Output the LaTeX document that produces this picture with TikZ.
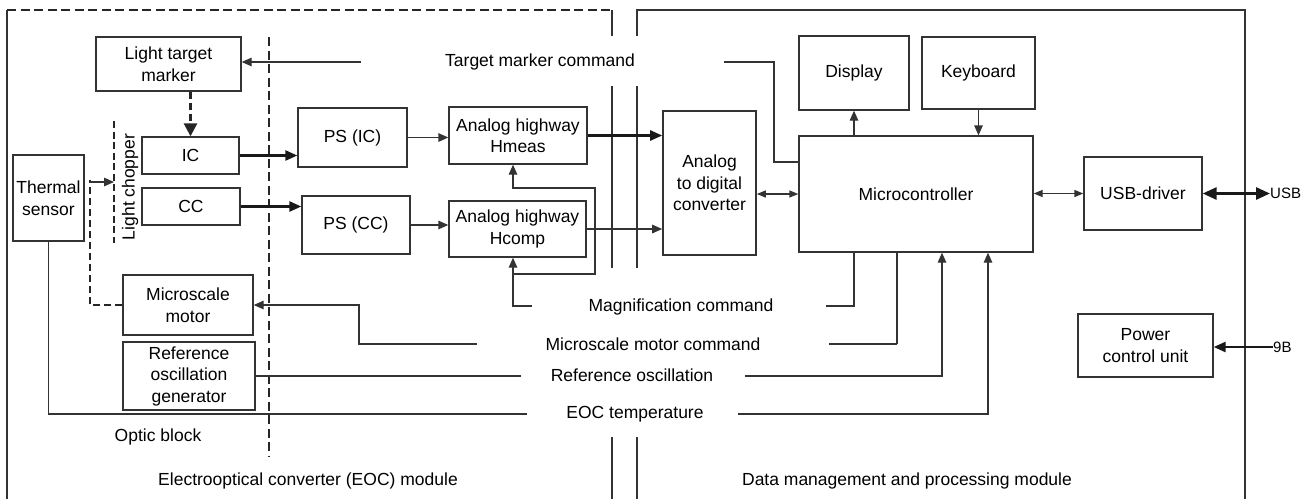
\documentclass[tikz,border=0pt]{standalone}
\usepackage{xcolor}
\usepackage{fontspec}
\setmainfont{Liberation Sans}
\usepackage{tikz}
\usetikzlibrary{
  positioning,
  arrows.meta,
  calc
}
\newcommand{\labfont}{\fontsize{17.5}{21.5}\selectfont}
\newcommand{\pinfont}{\fontsize{15}{17}\selectfont}
\tikzset{
  >=Triangle,
  wire/.style={draw=black!80,line width=1.3pt},
  flowarrow/.style={wire,-{Triangle[length=10pt,width=8.5pt]}},
  biarrow/.style={wire,{Triangle[length=9pt,width=7pt]}-{Triangle[length=9pt,width=7pt]}},
  fatarrow/.style={draw=black!90,line width=2.4pt,-{Triangle[length=12pt,width=10pt]}},
  fatbiarrow/.style={draw=black!90,line width=2.8pt,{Triangle[length=14pt,width=12pt]}-{Triangle[length=14pt,width=12pt]}},
  optic/.style={draw=black!85,line width=2.6pt,dash pattern=on 9pt off 4.5pt},
  block/.style={rectangle,draw=black!80,line width=1.3pt,align=center,inner sep=0pt},
  boxsize/.style 2 args={minimum width=#1,minimum height=#2},
  cmd/.style={inner sep=0pt,align=center},
  pin/.style={font=\pinfont,inner sep=0pt,anchor=west}
}

\begin{document}
\begin{tikzpicture}[x=1pt,y=-1pt,font=\labfont]
    \useasboundingbox (0,0) rectangle (1315,499);

    % optic block and EOC module
    \node[block,boxsize={145pt}{54pt}] (marker) at (168.5,64) {Light target\\marker};
    \node[block,boxsize={97pt}{37pt}] (ic) at (190.5,155.5) {IC};
    \node[block,boxsize={98pt}{37pt}] (cc) at (191,206.5) {CC};
    \node[block,boxsize={71pt}{86pt}] (thermal) at (48.5,198) {Thermal\\sensor};
    \node[block,boxsize={130pt}{60pt}] (motor) at (188,305) {Microscale\\motor};
    \node[block,boxsize={132pt}{68pt}] (refgen) at (189,376) {Reference\\oscillation\\generator};
    \node[block,boxsize={109pt}{59pt}] (psic) at (352.5,137.5) {PS (IC)};
    \node[block,boxsize={108pt}{58pt}] (pscc) at (356,225) {PS (CC)};
    \node[block,boxsize={138pt}{57pt}] (hmeas) at (518,135.5) {Analog highway\\Hmeas};
    \node[block,boxsize={137pt}{56pt}] (hcomp) at (517.5,229) {Analog highway\\Hcomp};

    % data management module
    \node[block,boxsize={93pt}{144pt},line width=1.6pt] (adc) at (709.5,183) {Analog\\to digital\\converter};
    \node[block,boxsize={110pt}{74pt}] (display) at (854,73) {Display};
    \node[block,boxsize={113pt}{72pt}] (keyboard) at (978.5,73) {Keyboard};
    \node[block,boxsize={234pt}{116pt}] (micro) at (916,194) {Microcontroller};
    \node[block,boxsize={118pt}{73pt}] (usbdrv) at (1143,193.5) {USB-driver};
    \node[block,boxsize={135pt}{63pt}] (power) at (1145.5,345.5) {Power\\control unit};

    % labels
    \node[cmd,rotate=90] (chopper) at (130,187) {Light chopper};
    \node[cmd] (tmcmd) at (540,62) {Target marker command};
    \node[cmd] (magcmd) at (681,307) {Magnification command};
    \node[cmd] (motcmd) at (653,344) {Microscale motor command};
    \node[cmd] (refosc) at (632,375) {Reference oscillation};
    \node[cmd] (eoctemp) at (635,414) {EOC temperature};
    \node[cmd] (opticlbl) at (158,437) {Optic block};
    \node[cmd] (eocmod) at (308,481) {Electrooptical converter (EOC) module};
    \node[cmd] (datamod) at (907,481) {Data management and processing module};
    \node[pin] (usbpin) at (1270,193.5) {USB};
    \node[pin] (ninepin) at (1273,347) {9B};

    \coordinate (tmL) at (361,62);    \coordinate (tmR) at (724,62);
    \coordinate (magL) at (532,306);  \coordinate (magR) at (826,306);
    \coordinate (motL) at (477,344);  \coordinate (motR) at (829,344);
    \coordinate (refL) at (521,376);  \coordinate (refR) at (745,376);
    \coordinate (tempL) at (527,414); \coordinate (tempR) at (738,414);
    \coordinate (magsplit) at (513,274);
    \coordinate (chopin) at (114,182);

    % module frames
    \draw[wire] (7,499) -- (7,10);
    \draw[optic] (7,10) -- (612,10);
    \draw[wire] (612,10) -- (612,36) (612,86) -- (612,268) (612,437) -- (612,499);
    \draw[wire] (637,36) -- (637,10) -- (1245,10) -- (1245,499);
    \draw[wire] (637,86) -- (637,268) (637,437) -- (637,499);

    % optics
    \draw[optic] (269,37) -- (269,456);
    \draw[optic,dash pattern=on 7pt off 3.5pt] (114,121) -- (114,243);
    \draw[optic,dash pattern=on 7pt off 4pt,-{Triangle[length=13pt,width=13pt]}] (marker.south -| ic.north) -- (ic.north);
    \draw[optic,dash pattern=on 7pt off 4pt] (motor.west) -| (90,180);
    \draw[flowarrow] (90,182) -- (chopin);

    % signal paths
    \draw[fatarrow] (ic.east) -- (ic.east -| psic.west);
    \draw[fatarrow] (cc.east) -- (cc.east -| pscc.west);
    \draw[flowarrow] (psic.east) -- (psic.east -| hmeas.west);
    \draw[flowarrow] (pscc.east) -- (pscc.east -| hcomp.west);
    \draw[fatarrow] (hmeas.east) -- (hmeas.east -| adc.west);
    \draw[flowarrow] (hcomp.east) -- (hcomp.east -| adc.west);
    \draw[biarrow] (micro.west -| adc.east) -- (micro.west);
    \draw[biarrow] (micro.east |- usbdrv.west) -- (usbdrv.west);
    \draw[fatbiarrow] (usbdrv.east) -- (usbpin.west);
    \draw[fatarrow] (ninepin.west) -- (ninepin.west -| power.east);
    \draw[flowarrow] (micro.north -| display.south) -- (display.south);
    \draw[flowarrow] (keyboard.south) -- (keyboard.south |- micro.north);

    % commands
    \draw[wire] (micro.west |- 0,162) -| ($(tmR)+(50,0)$) -- (tmR);
    \draw[flowarrow] (tmL) -- (tmL -| marker.east);
    \draw[wire] (micro.south -| 854,0) |- (magR);
    \draw[flowarrow] (magL) -| (magsplit |- hcomp.south);
    \draw[flowarrow] (magsplit) -| (595,188) -| (hmeas.south -| magsplit);
    \draw[wire,line width=2pt] (micro.south -| 897,0) -- (897,344);
    \draw[wire] (897,344) -- (motR);
    \draw[flowarrow] (motL) -- (359,344) |- (motor.east);
    \draw[wire] (refgen.east) -- (refL);
    \draw[flowarrow] (refR) -| (micro.south -| 942,0);
    \draw[wire] (thermal.south) |- (tempL);
    \draw[flowarrow] (tempR) -| (micro.south -| 988,0);
\end{tikzpicture}
\end{document}
